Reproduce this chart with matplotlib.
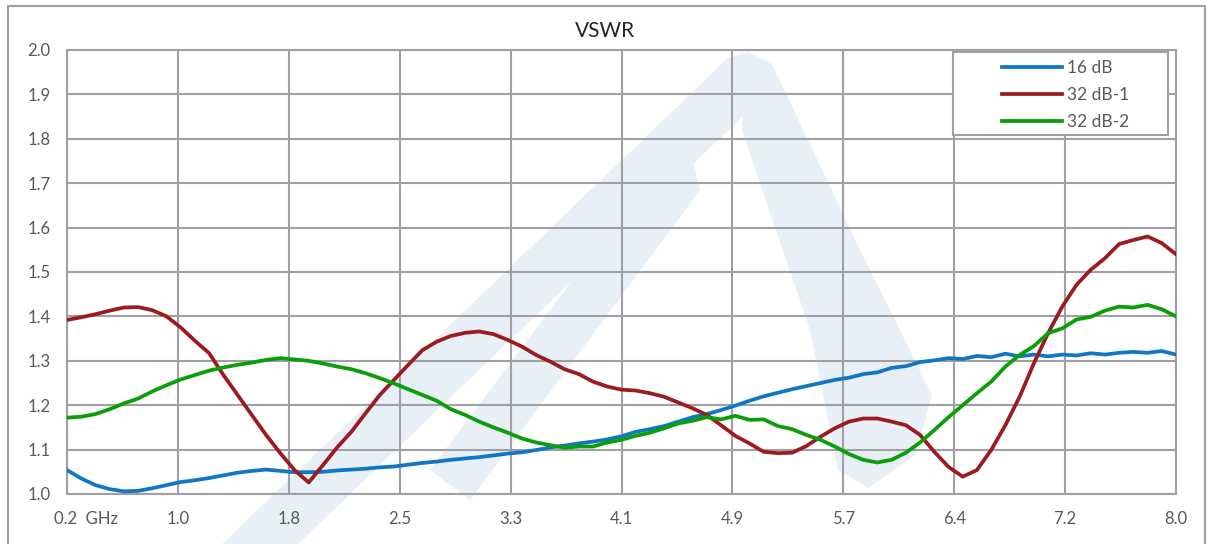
import numpy as np
import matplotlib.pyplot as plt
from matplotlib.patches import Rectangle, Polygon
from matplotlib.lines import Line2D
import matplotlib.transforms as mtransforms

plt.rcParams['font.family'] = ['Lato', 'DejaVu Sans']

# frequency, GHz (0.2 ... 8.0 in 0.1 steps)
freq = [round(0.2 + 0.1 * i, 1) for i in range(79)]

vswr_16 = [1.054, 1.035, 1.020, 1.011, 1.006, 1.007, 1.013, 1.020, 1.027, 1.031,
           1.036, 1.042, 1.048, 1.052, 1.055, 1.052, 1.049, 1.049, 1.050, 1.053,
           1.055, 1.057, 1.060, 1.062, 1.066, 1.070, 1.073, 1.077, 1.080, 1.083,
           1.087, 1.091, 1.094, 1.099, 1.105, 1.109, 1.114, 1.118, 1.123, 1.130,
           1.140, 1.146, 1.153, 1.163, 1.173, 1.180, 1.189, 1.199, 1.210, 1.220,
           1.228, 1.236, 1.243, 1.250, 1.257, 1.262, 1.270, 1.274, 1.284, 1.288,
           1.297, 1.301, 1.306, 1.304, 1.311, 1.308, 1.316, 1.310, 1.314, 1.310,
           1.314, 1.312, 1.317, 1.314, 1.318, 1.320, 1.318, 1.322, 1.314]

vswr_32_1 = [1.392, 1.398, 1.405, 1.413, 1.420, 1.421, 1.414, 1.400, 1.375, 1.345,
             1.317, 1.268, 1.223, 1.178, 1.133, 1.092, 1.054, 1.026, 1.065, 1.105,
             1.140, 1.182, 1.223, 1.257, 1.291, 1.324, 1.343, 1.356, 1.363, 1.366,
             1.360, 1.347, 1.332, 1.313, 1.298, 1.281, 1.270, 1.253, 1.242, 1.235,
             1.233, 1.227, 1.219, 1.206, 1.193, 1.178, 1.155, 1.131, 1.114, 1.095,
             1.092, 1.093, 1.108, 1.129, 1.148, 1.163, 1.170, 1.170, 1.163, 1.155,
             1.133, 1.095, 1.061, 1.039, 1.054, 1.099, 1.155, 1.219, 1.294, 1.362,
             1.422, 1.471, 1.505, 1.531, 1.563, 1.572, 1.580, 1.565, 1.540]

vswr_32_2 = [1.172, 1.174, 1.180, 1.191, 1.204, 1.215, 1.231, 1.245, 1.258, 1.268,
             1.278, 1.285, 1.291, 1.296, 1.302, 1.306, 1.303, 1.300, 1.294, 1.287,
             1.281, 1.272, 1.261, 1.249, 1.236, 1.223, 1.210, 1.191, 1.178, 1.163,
             1.150, 1.138, 1.125, 1.116, 1.110, 1.104, 1.107, 1.107, 1.116, 1.122,
             1.131, 1.138, 1.148, 1.159, 1.165, 1.173, 1.168, 1.176, 1.167, 1.168,
             1.153, 1.146, 1.133, 1.122, 1.107, 1.090, 1.077, 1.071, 1.077, 1.093,
             1.116, 1.144, 1.173, 1.200, 1.227, 1.253, 1.287, 1.313, 1.333, 1.362,
             1.373, 1.393, 1.399, 1.413, 1.422, 1.420, 1.426, 1.416, 1.400]

series = [("16 dB", vswr_16, "#1177C2"),
          ("32 dB-1", vswr_32_1, "#9A1C20"),
          ("32 dB-2", vswr_32_2, "#0A9E0A")]

xtick_pos = [0.2 + 0.78 * k for k in range(11)]
xtick_lab = ["0.2  GHz", "1.0", "1.8", "2.5", "3.3", "4.1", "4.9", "5.7", "6.4", "7.2", "8.0"]
ytick_pos = [1.0 + 0.1 * k for k in range(11)]

W, H = 1212, 544
fig = plt.figure(figsize=(W / 100, H / 100), dpi=100)

# faint watermark logo behind the chart (pixel coords, y from top)
wm = "#E8EFF7"
logo = [
    [(222, 544), (298, 544), (765, 95), (748, 52), (728, 58)],
    [(748, 52), (772, 64), (860, 250), (932, 395), (915, 455), (868, 488), (838, 470), (810, 330), (742, 130)],
    [(430, 470), (470, 500), (700, 190), (688, 140), (670, 150)],
]
for poly in logo:
    fig.add_artist(Polygon([(x / W, 1 - y / H) for x, y in poly], closed=True,
                           transform=fig.transFigure, facecolor=wm, edgecolor='none', zorder=0))

ax = fig.add_axes([67 / W, 1 - 494 / H, (1176 - 67) / W, (494 - 50) / H])
ax.patch.set_alpha(0)

grid_c = "#A0A0A4"
for name, vals, col in series:
    ax.plot(freq, vals, color=col, lw=2.7, label=name, solid_capstyle='round', zorder=3)

ax.set_xlim(0.2, 8.0)
ax.set_ylim(1.0, 2.0)
ax.set_xticks(xtick_pos)
ax.set_xticklabels(xtick_lab)
ax.set_yticks(ytick_pos)
ax.set_yticklabels([f"{v:.1f}" for v in ytick_pos])
ax.grid(True, color=grid_c, lw=1.5)
ax.set_axisbelow(True)
for s in ax.spines.values():
    s.set_color(grid_c)
    s.set_linewidth(1.5)
ax.tick_params(length=0, labelsize=12, labelcolor="#595959", pad=12)

# shift first label so that "0.2" sits on its tick
lab0 = ax.get_xticklabels()[0]
lab0.set_horizontalalignment('left')
lab0.set_transform(lab0.get_transform() + mtransforms.ScaledTranslation(-13 / 100, 0, fig.dpi_scale_trans))

fig.text(605 / W, 1 - 31 / H, "VSWR", ha='center', va='center', fontsize=15, color="#262626")

# legend box
fig.add_artist(Rectangle((953 / W, 1 - 135 / H), 215 / W, 83 / H, transform=fig.transFigure,
                         facecolor='white', edgecolor=grid_c, lw=1.5, zorder=5))
handles = [Line2D([], [], color=c, lw=2.7) for _, _, c in series]
leg = fig.legend(handles, [n for n, _, _ in series], loc='upper left',
                 bbox_to_anchor=(986 / W, 1 - 44 / H), frameon=False, fontsize=12.5,
                 handlelength=3.4, handletextpad=0.3, labelspacing=0.62, borderpad=0.45,
                 labelcolor="#595959")
leg.set_zorder(6)

# chart border
fig.add_artist(Rectangle((8 / W, -0.05), 1197 / W, 1.05 - 6 / H, transform=fig.transFigure,
                         facecolor='none', edgecolor=grid_c, lw=1.5))

fig.savefig("out.png", dpi=100)
